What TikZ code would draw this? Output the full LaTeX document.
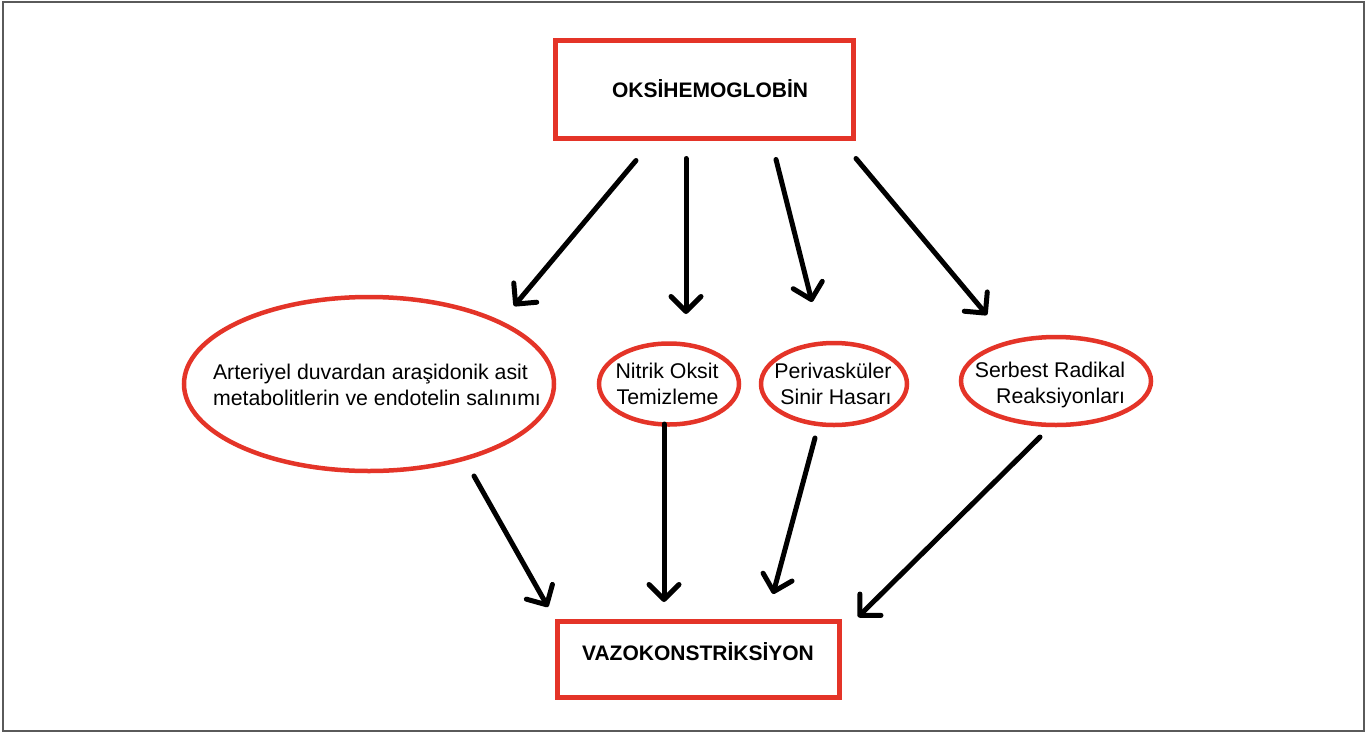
\documentclass[tikz,border=0pt]{standalone}
\usepackage{fontspec}
\setmainfont{Liberation Sans}
\usetikzlibrary{arrows.meta,shapes.geometric}
\definecolor{boxred}{RGB}{228,52,40}
\definecolor{framegray}{RGB}{90,90,90}
\tikzset{
  box/.style={draw=boxred, line width=5pt, rectangle, inner sep=0pt},
  oval/.style={draw=boxred, line width=4.5pt, ellipse, inner sep=0pt},
  ovaltext/.style={font=\fontsize{21.3}{26}\selectfont, inner sep=0pt},
  title/.style={font=\fontsize{21}{26}\selectfont\bfseries, inner sep=0pt},
  arr/.style={line width=5pt, line cap=round, -{Straight Barb[length=15pt, width=30pt, line cap=round, line join=round]}},
}
\begin{document}
\begin{tikzpicture}[x=1pt, y=-1pt]
\useasboundingbox (0,0) rectangle (1368,734);
\draw[framegray, line width=2pt] (3,2) rectangle (1364,731);

\node[box, minimum width=298pt, minimum height=98pt] (top) at (704,89) {};
\node[title] (toptext) at (710,89) {OKSİHEMOGLOBİN};
\node[box, minimum width=282pt, minimum height=76pt] (bot) at (698,659) {};
\node[title] (bottext) at (698,652) {VAZOKONSTRİKSİYON};

\node[oval, minimum width=370pt, minimum height=174pt] (e1) at (369,384) {};
\node[ovaltext, align=left] (t1) at (377,385) {Arteriyel duvardan araşidonik asit\\metabolitlerin ve endotelin salınımı};
\node[oval, minimum width=140pt, minimum height=81pt] (e2) at (669,384) {};
\node[ovaltext, align=right] (t2) at (667,384) {Nitrik Oksit\\Temizleme};
\node[oval, minimum width=146pt, minimum height=82pt] (e3) at (834,384) {};
\node[ovaltext, align=right] (t3) at (833,384) {Perivasküler\\Sinir Hasarı};
\node[oval, minimum width=190pt, minimum height=88pt] (e4) at (1056,381) {};
\node[ovaltext, align=right] (t4) at (1050,385) {Serbest Radikal\\Reaksiyonları};

\draw[arr] ([shift={(-68,20)}]top.south) -- ([shift={(145,-78)}]e1.center);
\draw[arr] ([shift={(-18,18)}]top.south) -- ([shift={(17,-70)}]e2.center);
\draw[arr] ([shift={(72,19)}]top.south) -- ([shift={(-22,-82)}]e3.center);
\draw[arr] ([shift={(152,18)}]top.south) -- ([shift={(-69,-66)}]e4.center);

\draw[arr] ([shift={(105,92)}]e1.center) -- ([shift={(-150,-52)}]bot.center);
\draw[arr] ([shift={(-5,40)}]e2.center) -- ([shift={(-34,-57)}]bot.center);
\draw[arr] ([shift={(-19,54)}]e3.center) -- ([shift={(75,-65)}]bot.center);
\draw[arr] ([shift={(-16,56)}]e4.center) -- ([shift={(160,-42)}]bot.center);
\end{tikzpicture}
\end{document}
